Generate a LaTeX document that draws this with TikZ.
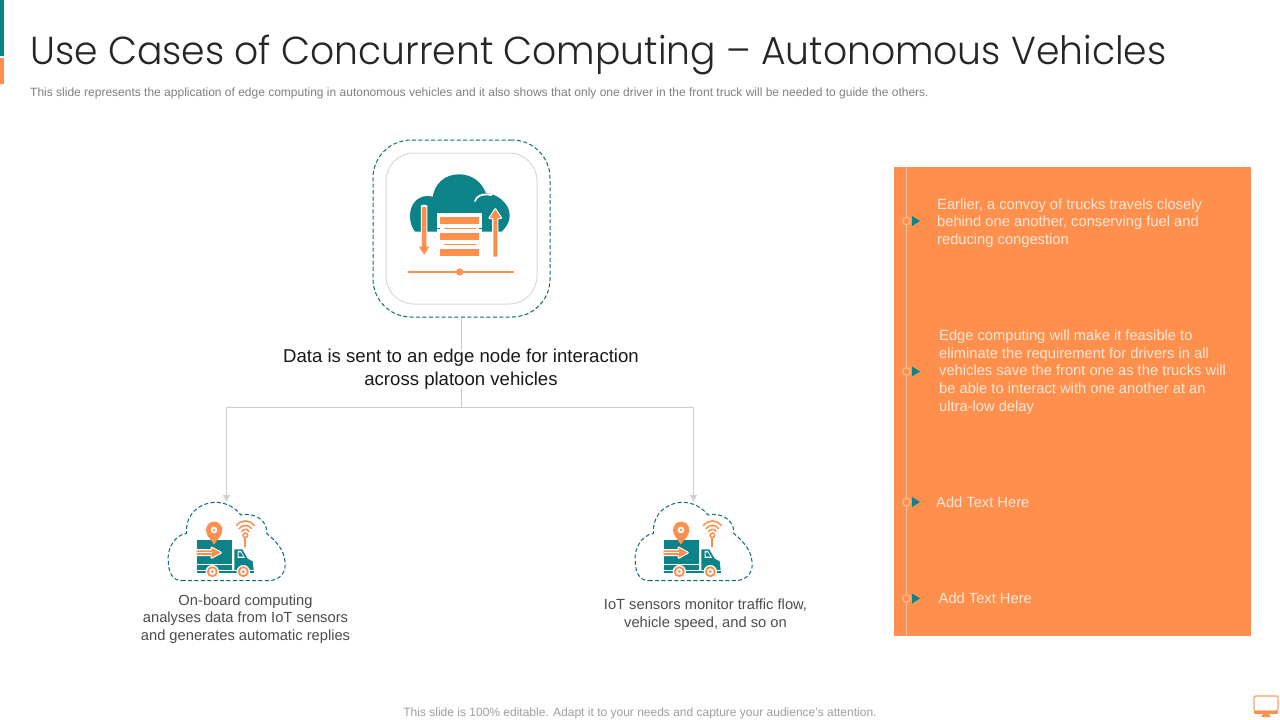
\documentclass[tikz,border=0pt]{standalone}
\usepackage{fontspec}
\setmainfont{Liberation Sans}
\newfontfamily\titlefont[FakeStretch=0.966]{Poppins Light}
\usetikzlibrary{arrows.meta}
\definecolor{tealc}{HTML}{0B8388}
\definecolor{orangec}{HTML}{FF8F4D}
\definecolor{paneltext}{HTML}{FFE8D8}
\definecolor{panelline}{HTML}{FFC49C}
\tikzset{
  x=1pt,y=-1pt,
  dashbox/.style={draw=tealc!85!black,dash pattern=on 4pt off 2.4pt,line width=1pt},
  plainline/.style={draw=black!22,line width=1pt},
  feedarrow/.style={draw=black!20,line width=1pt,-{Triangle[length=7pt,width=7pt,color=black!18]}},
  paneltxt/.style={anchor=west,align=left,text=paneltext,inner sep=0pt,font=\fontsize{14.7}{17.7}\selectfont},
  captiontxt/.style={align=center,text=black!70,inner sep=0pt,font=\fontsize{14.7}{17.6}\selectfont},
  markerring/.style={draw=panelline,line width=1pt},
  markertri/.style={fill=tealc},
  whitehalo/.style={draw=white,line width=2.2pt,line join=round},
}
\newcommand{\truckicon}[1]{%
\begin{scope}[shift={(#1,490)},x=0.3333pt,y=-0.3333pt]
  \draw[dashbox] (80,272) -- (340,272) .. controls (375,272) and (395,245) .. (390,215)
    .. controls (387,180) and (365,155) .. (335,130) .. controls (340,95) and (300,65) .. (258,75)
    .. controls (235,45) and (195,30) .. (160,40) .. controls (115,50) and (90,90) .. (95,130)
    .. controls (60,135) and (35,175) .. (40,215) .. controls (40,250) and (55,272) .. (80,272) -- cycle;
  % truck
  \fill[tealc] (125,150) rectangle (232,240);
  \fill[tealc] (238,178) -- (262,178) -- (278,206) -- (293,214) -- (296,240) -- (238,240) -- cycle;
  \fill[white] (248,183) -- (258,183) -- (270,204) -- (248,204) -- cycle;
  \fill[tealc] (251,187) -- (257,187) -- (265,200) -- (251,200) -- cycle;
  \fill[tealc] (125,243) rectangle (296,250);
  \draw[white,line width=1.4pt] (125,224) -- (232,224);
  \draw[whitehalo] (125,181) -- (170,181) -- (170,173) -- (197,188) -- (170,203) -- (170,195) -- (125,195);
  \fill[orangec] (125,181) -- (170,181) -- (170,173) -- (197,188) -- (170,203) -- (170,195) -- (125,195) -- cycle;
  \fill[white] (125,187) rectangle (172,189);
  \foreach \wx in {172,265}{
    \fill[white] (\wx,245) circle (20);
    \draw[orangec,line width=1.8pt] (\wx,245) circle (13.5);
    \fill[orangec] (\wx,245) circle (4.5);
  }
  % pin
  \fill[orangec] (177,164) .. controls (165,145) and (153,135) .. (153,120)
    .. controls (153,105) and (165,95) .. (177,95) .. controls (190,95) and (202,105) .. (202,120)
    .. controls (202,135) and (190,145) .. (177,164) -- cycle;
  \fill[white] (177,120) circle (10);
  \fill[orangec] (177,120) circle (4);
  % wifi
  \draw[orangec,line width=1.5pt,line cap=round] (244,107) .. controls (258,88) and (284,88) .. (298,107);
  \draw[orangec,line width=1.5pt,line cap=round] (252,116) .. controls (262,103) and (280,103) .. (290,116);
  \draw[orangec,line width=1.5pt,line cap=round] (260,124) .. controls (266,116) and (276,116) .. (282,124);
  \draw[orangec,line width=1.5pt] (271,136) circle (7);
  \draw[orangec,line width=2pt,line cap=round] (271,143) -- (271,170);
\end{scope}}
\begin{document}
\begin{tikzpicture}
\useasboundingbox (0,0) rectangle (1280,720);
\fill[white] (0,0) rectangle (1280,720);
% accent bars
\fill[tealc] (0,0) rectangle (4,56);
\fill[orangec] (0,58) rectangle (4,84);
% title
\node[anchor=west,inner sep=0pt,text=black!85] (title) at (30,55) {\titlefont\fontsize{39}{47}\selectfont Use Cases of Concurrent Computing – Autonomous Vehicles};
\node[anchor=west,inner sep=0pt,text=black!50] (subtitle) at (30,93) {\fontsize{12}{14}\selectfont This slide represents the application of edge computing in autonomous vehicles and it also shows that only one driver in the front truck will be needed to guide the others.};
% top icon frame
\node[dashbox,rounded corners=38pt,minimum width=177pt,minimum height=177pt,inner sep=0pt] (edgeframe) at (461.5,228.5) {};
\node[draw=black!15,line width=1pt,fill=white,rounded corners=28pt,minimum width=151pt,minimum height=151pt,inner sep=0pt] (edgebox) at (461.5,228.5) {};
\begin{scope}[shift={(360,130)},x=0.3333pt,y=-0.3333pt]
  \fill[tealc] (165,305) .. controls (145,280) and (145,235) .. (165,215) .. controls (180,198) and (200,195) .. (218,200)
    .. controls (225,160) and (255,133) .. (297,133) .. controls (335,133) and (365,155) .. (378,190)
    .. controls (400,190) and (430,205) .. (445,235) .. controls (455,265) and (445,285) .. (425,305) -- cycle;
  \draw[white,line width=1.8pt,line cap=round] (345,213) .. controls (350,198) and (365,190) .. (395,195);
  \fill[white] (231,250) rectangle (367,392);
  \fill[tealc] (228,293) rectangle (240,298);
  \fill[tealc] (358,293) rectangle (372,298);
  \draw[whitehalo] (186,228) -- (199,228) -- (199,350) -- (208,350) -- (192.5,374) -- (177,350) -- (186,350) -- cycle;
  \fill[orangec] (186,232) -- (199,232) -- (199,350) -- (208,350) -- (192.5,374) -- (177,350) -- (186,350) -- cycle;
  \draw[whitehalo] (400,380) -- (400,264) -- (389,264) -- (406,238) -- (423,264) -- (412,264) -- (412,380) -- cycle;
  \fill[orangec] (400,380) -- (400,264) -- (389,264) -- (406,238) -- (423,264) -- (412,264) -- (412,380) -- cycle;
  \fill[orangec] (240,260) rectangle (358,283);
  \fill[orangec] (240,309) rectangle (358,330);
  \fill[orangec] (240,357) rectangle (358,378);
  \fill[orangec] (252,294) rectangle (348,298);
  \fill[orangec] (252,341) rectangle (348,345);
  \fill[orangec] (145,422) rectangle (462,430);
  \fill[orangec] (299,426) circle (11);
\end{scope}
% headline
\node[align=center,inner sep=0pt,text=black!90,font=\fontsize{18.6}{23}\selectfont] (headline) at (461,369) {Data is sent to an edge node for interaction\\across platoon vehicles};
\coordinate (junction) at (461.5,407);
\draw[plainline] (edgeframe.south) -- ([yshift=-1pt]headline.north -| edgeframe.south);
\draw[plainline] ([yshift=1pt]headline.south -| junction) -- (junction);
% clouds
\truckicon{155}
\truckicon{622}
\node[inner sep=0pt,minimum width=118pt,minimum height=80pt] (cloudleft) at (226.5,542) {};
\node[inner sep=0pt,minimum width=118pt,minimum height=80pt] (cloudright) at (693.5,542) {};
\draw[feedarrow] (junction) -| (cloudleft.north);
\draw[feedarrow] (junction) -| (cloudright.north);
\node[captiontxt] (capleft) at (245.5,619) {On-board computing\\analyses data from IoT sensors\\and generates automatic replies};
\node[captiontxt] (capright) at (705.5,614.5) {IoT sensors monitor traffic flow,\\vehicle speed, and so on};
% panel
\fill[orangec] (894,167) rectangle (1251,636);
\draw[panelline,line width=1pt] (906.5,167) -- (906.5,636);
\foreach \my in {221,371.5,502,598.5}{
  \filldraw[fill=orangec,markerring] (906.5,\my) circle (3.8);
  \fill[markertri] (912,\my-5) -- (920,\my) -- (912,\my+5) -- cycle;
}
\node[paneltxt] (t1) at (937,223) {Earlier, a convoy of trucks travels closely\\behind one another, conserving fuel and\\reducing congestion};
\node[paneltxt] (t2) at (939,372) {Edge computing will make it feasible to\\eliminate the requirement for drivers in all\\vehicles save the front one as the trucks will\\be able to interact with one another at an\\ultra-low delay};
\node[paneltxt] (t3) at (936,502) {Add Text Here};
\node[paneltxt] (t4) at (938.5,598) {Add Text Here};
% footer
\node[inner sep=0pt,text=black!38,font=\fontsize{12}{14}\selectfont] (footer) at (640,713) {This slide is 100\% editable. Adapt it to your needs and capture your audience’s attention.};
% monitor icon
\draw[orangec!85!white,line width=1.4pt,rounded corners=1.5pt] (1254,696) rectangle (1278,711);
\fill[orangec] (1254,710.5) rectangle (1278,713.5);
\fill[orangec] (1263.5,713.5) -- (1268.5,713.5) -- (1271,717) -- (1261,717) -- cycle;
\end{tikzpicture}
\end{document}
